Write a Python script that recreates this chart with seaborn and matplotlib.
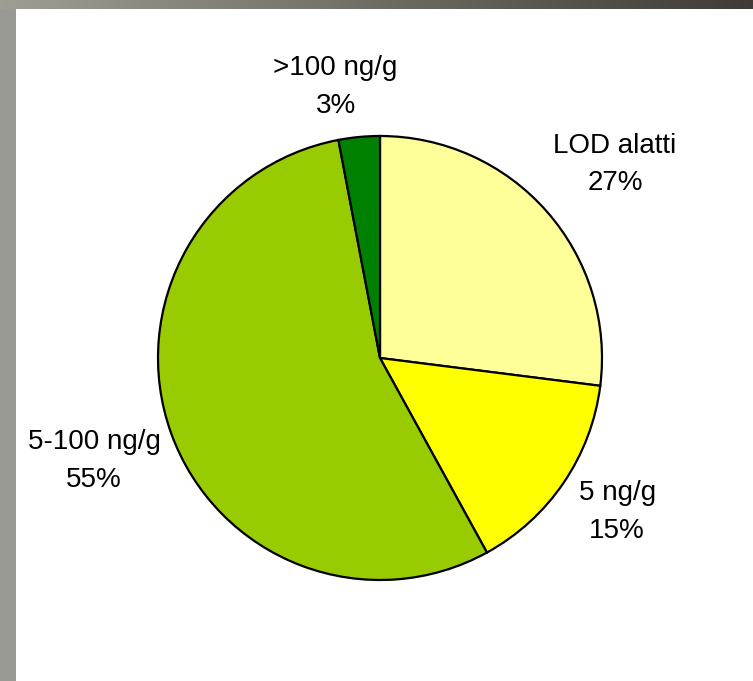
import numpy as np
import matplotlib
matplotlib.use("Agg")
import matplotlib.pyplot as plt
import seaborn as sns

# Share of samples by concentration class
categories = ["LOD alatti", "5 ng/g", "5-100 ng/g", ">100 ng/g"]
shares = [27, 15, 55, 3]
colors = ["#FFFF99", "#FFFF00", "#99CC00", "#008000"]

sns.set_style("white")
plt.rcParams["font.family"] = ["Liberation Sans", "DejaVu Sans"]

W, H, DPI = 753, 681, 100
fig = plt.figure(figsize=(W / DPI, H / DPI), dpi=DPI)

# stone-textured frame around the white slide panel
bg = fig.add_axes([0, 0, 1, 1])
bg.set_axis_off()
grad = np.linspace(0, 1, 256)
top = np.array([[0.62, 0.62, 0.58]]) * (1 - grad[:, None]) + np.array([[0.25, 0.23, 0.21]]) * grad[:, None]
bg.imshow(top[None, :, :], extent=[0, W, H - 9, H], aspect="auto")
bg.add_patch(plt.Rectangle((0, 0), 16, H - 9, color="#9a9a94", lw=0))
bg.add_patch(plt.Rectangle((16, 0), W - 16, H - 9, color="white", lw=0))
bg.set_xlim(0, W)
bg.set_ylim(0, H)

# pie axes laid out in units of the pie radius
cx, cy, R = 380, 358, 222
ax = fig.add_axes([0, 0, 1, 1])
ax.pie(shares, colors=colors, startangle=90, counterclock=False, radius=1.0,
       wedgeprops=dict(edgecolor="black", linewidth=1.6), frame=True)
ax.set_xlim(-cx / R, (W - cx) / R)
ax.set_ylim(-(H - cy) / R, cy / R)
ax.set_aspect("auto")
ax.set_axis_off()

label_pos = [(1.059, 0.872), (1.068, -0.694), (-1.288, -0.464), (-0.200, 1.221)]
for name, val, (x, y) in zip(categories, shares, label_pos):
    ax.text(x, y, f"{name}\n{val}%", ha="center", va="center",
            fontsize=20, linespacing=1.56, color="black")

fig.savefig("out.png", dpi=DPI)
